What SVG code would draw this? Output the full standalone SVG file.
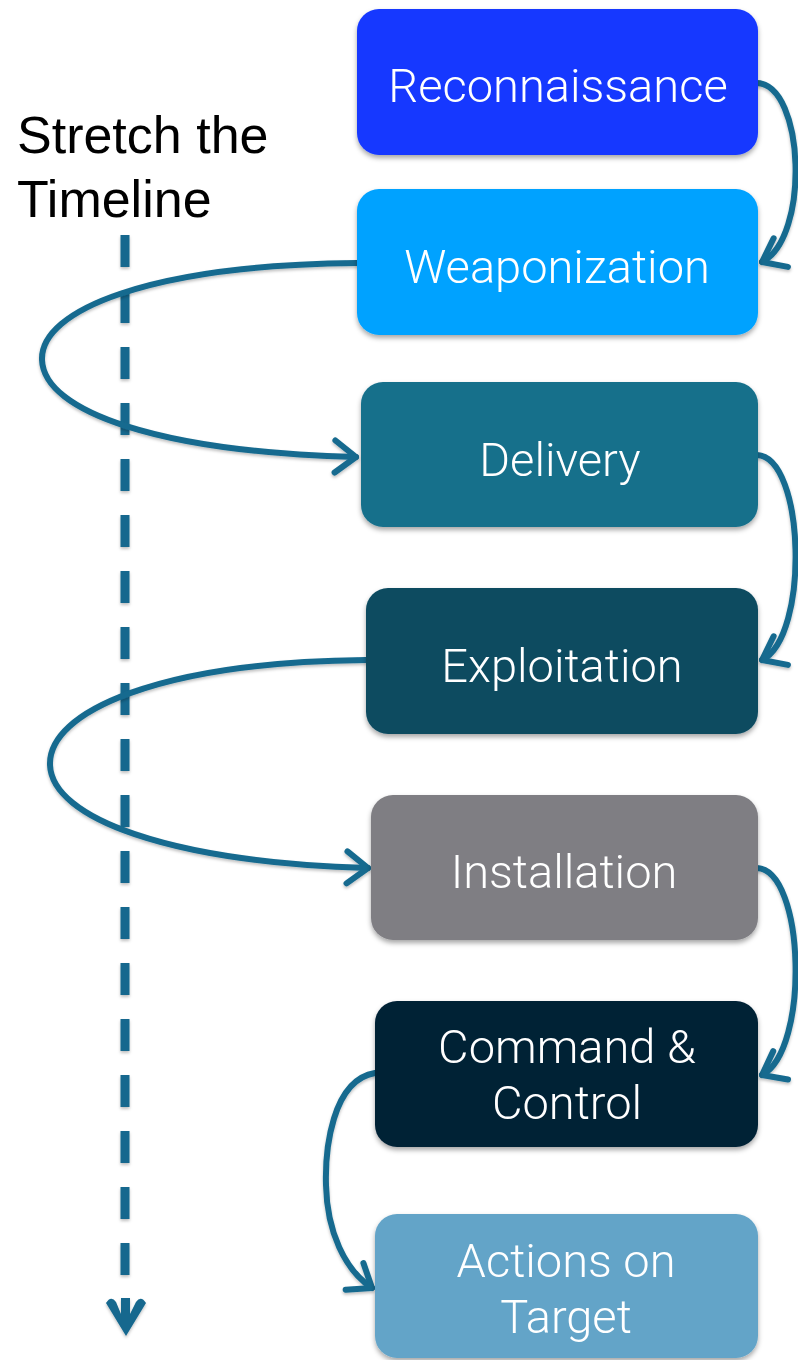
<svg xmlns="http://www.w3.org/2000/svg" width="798" height="1360" viewBox="0 0 798 1360">
<style>
.box{filter:url(#sh)}
.lbl{font-family:Roboto,"Liberation Sans",sans-serif;font-weight:300;font-size:47px;fill:#ffffff;text-anchor:middle}
.con{fill:none;stroke:#156A8F;stroke-width:6;stroke-linecap:round;marker-end:url(#ah)}
.title{font-family:"Liberation Sans",Arial,sans-serif;font-size:52px;fill:#000000}
</style>
<defs>
<filter id="sh" x="-10%" y="-10%" width="120%" height="130%">
<feDropShadow dx="0" dy="3" stdDeviation="2.5" flood-color="#000" flood-opacity="0.35"/>
</filter>
<filter id="ls" x="-10%" y="-10%" width="120%" height="120%">
<feDropShadow dx="0" dy="2" stdDeviation="1.5" flood-color="#000" flood-opacity="0.25"/>
</filter>
<marker id="ah" markerUnits="userSpaceOnUse" viewBox="-26 -20 30 40" refX="0" refY="0" markerWidth="30" markerHeight="40" orient="auto">
<path d="M-21,-16 L0,0 L-21,16" fill="none" stroke="#156A8F" stroke-width="6" stroke-linecap="round" stroke-linejoin="round"/>
</marker>
</defs>
<rect width="798" height="1360" fill="#ffffff"/>
<text class="title" x="17" y="153">Stretch the</text>
<text class="title" x="17" y="217">Timeline</text>
<g id="timeline" filter="url(#ls)">
<line x1="125" y1="235" x2="125" y2="1276" stroke="#15688E" stroke-width="9" stroke-dasharray="32 24"/>
<path d="M121,1298 H130 V1314 L136,1302 Q141,1295 146,1303 L126,1336 L106,1303 Q111,1295 116,1302 L121,1314 Z" fill="#15688E"/>
</g>
<g id="connectors" filter="url(#ls)">
<path class="con" d="M757,83 C805,85 810,238 762,262"/>
<path class="con" d="M357,263 C150,265 40,310 42,360 C44,412 160,452 356,457"/>
<path class="con" d="M757,455 C805,457 810,636 762,660"/>
<path class="con" d="M366,660 C158,662 48,712 50,765 C52,818 168,862 368,868"/>
<path class="con" d="M757,868 C805,870 810,1050 762,1075"/>
<path class="con" d="M375,1073 C332,1080 325,1150 326,1185 C327,1232 345,1270 372,1288"/>
</g>
<g id="n1" class="box"><rect x="357" y="9" width="401" height="146" rx="22" fill="#1438FF"/><text class="lbl" x="558" y="102">Reconnaissance</text></g>
<g id="n2" class="box"><rect x="357" y="189" width="401" height="146" rx="22" fill="#00A2FF"/><text class="lbl" x="557" y="283">Weaponization</text></g>
<g id="n3" class="box"><rect x="361" y="382" width="397" height="145" rx="22" fill="#166F8B"/><text class="lbl" x="560" y="476">Delivery</text></g>
<g id="n4" class="box"><rect x="366" y="588" width="392" height="146" rx="22" fill="#0C4B61"/><text class="lbl" x="562" y="682">Exploitation</text></g>
<g id="n5" class="box"><rect x="371" y="795" width="387" height="145" rx="22" fill="#7F7E83"/><text class="lbl" x="564" y="888">Installation</text></g>
<g id="n6" class="box"><rect x="375" y="1001" width="383" height="146" rx="22" fill="#042236"/><text class="lbl" x="567" y="1063">Command &amp;</text><text class="lbl" x="567" y="1119">Control</text></g>
<g id="n7" class="box"><rect x="375" y="1214" width="383" height="144" rx="22" fill="#63A4C8"/><text class="lbl" x="566" y="1277">Actions on</text><text class="lbl" x="566" y="1333">Target</text></g>
</svg>
